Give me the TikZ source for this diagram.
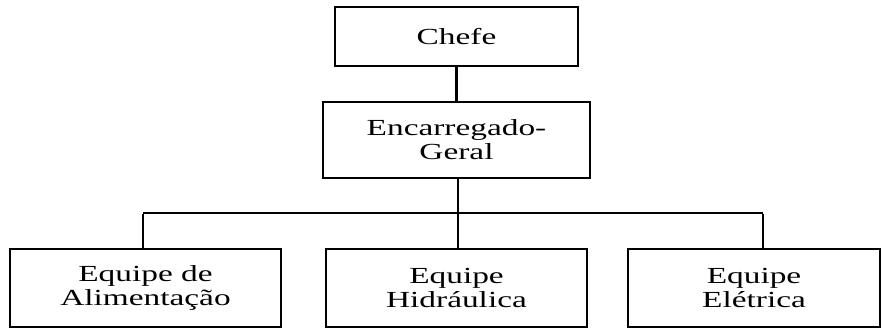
\documentclass[tikz,border=0pt]{standalone}
\usepackage{fontspec}
\setmainfont{Liberation Serif}[FakeStretch=1.45]
\begin{document}
\begin{tikzpicture}[x=1pt,y=-1pt,
  orgbox/.style={draw=black,line width=1.5pt,inner sep=0pt,align=center,
    font=\fontsize{23}{24}\selectfont},
  link/.style={line width=3.6pt,black},
  drop/.style={line width=2.8pt,black},
  bus/.style={line width=1.8pt,black}]
\useasboundingbox (0,0) rectangle (882,329);
\node[orgbox,minimum width=243pt,minimum height=59pt] (chefe) at (456.5,36.5) {Chefe};
\node[orgbox,minimum width=267pt,minimum height=76pt] (enc) at (456.5,140) {Encarregado-\\Geral};
\node[orgbox,minimum width=271pt,minimum height=78pt] (ali) at (145.5,288) {Equipe de\\Alimentação};
\node[orgbox,minimum width=261pt,minimum height=78pt] (hid) at (456.5,288) {Equipe\\Hidráulica};
\node[orgbox,minimum width=252pt,minimum height=78pt] (ele) at (754,288) {Equipe\\Elétrica};
\coordinate (bl) at (143,213);
\coordinate (bm) at (458,213);
\coordinate (br) at (763,213);
\draw[link] (chefe.south) -- (enc.north);
\draw[drop] (bm |- enc.south) -- (bm |- hid.north);
\draw[bus] (bl) -- (br);
\draw[drop] (bl |- ali.north) -- ([yshift=-0.9pt]bl);
\draw[drop] (br |- ele.north) -- ([yshift=-0.9pt]br);
\end{tikzpicture}
\end{document}
